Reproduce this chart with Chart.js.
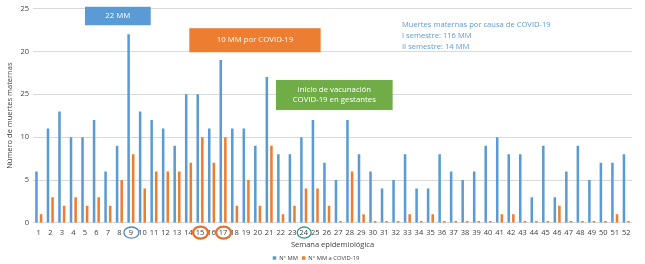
<!DOCTYPE html>
<html><head><meta charset="utf-8">
<script src="https://cdn.jsdelivr.net/npm/chart.js@4/dist/chart.umd.min.js"></script>
<style>html,body{margin:0;padding:0;background:#fff}#wrap{width:645px;height:264px}</style>
</head><body><div id="wrap"><canvas id="c" width="645" height="264"></canvas></div>
<script>
const weeks = ['1','2','3','4','5','6','7','8','9','10','11','12','13','14','15','16','17','18','19','20','21','22','23','24','25','26','27','28','29','30','31','32','33','34','35','36','37','38','39','40','41','42','43','44','45','46','47','48','49','50','51','52'];
const mmTotal = [6,11,13,10,10,12,6,9,22,13,12,11,9,15,15,11,19,11,11,9,17,8,8,10,12,7,5,12,8,6,4,5,8,4,4,8,6,5,6,9,10,8,8,3,9,3,6,9,5,7,7,8];
const mmCovid = [1,3,2,3,2,3,2,5,8,4,6,6,6,7,10,7,10,2,5,2,9,1,2,4,4,2,0,6,1,0,0,0,1,0,1,0,0,0,0,0,1,1,0,0,0,2,0,0,0,0,1,0];
const yTickLabels = ['0','5','10','25','20','25'];
const seriesNames = ['N° MM','N° MM a COVID-19'];
const xTitle = 'Semana epidemiológica';
const yTitle = 'Número de muertes maternas';
const highlightWeeks = ['9','15','17','24'];
const calloutTexts = [['22 MM'],['10 MM por COVID-19'],['Inicio de vacunación','COVID-19 en gestantes']];
const noteLines = ['Muertes maternas por causa de COVID-19','I semestre: 116 MM','II semestre: 14 MM'];

const BLUE = '#5b9bd5', ORANGE = '#ed7d31', GREEN = '#70ad47';
const FONT = "'Open Sans', sans-serif";
Chart.defaults.font.family = FONT;

// callout boxes in data units (category index, value)
const calloutBoxes = [
  {x0: 4.01, x1: 9.72, y0: 25.2, y1: 23.05, color: BLUE},
  {x0: 13.07, x1: 24.47, y0: 22.7, y1: 19.9, color: ORANGE},
  {x0: 20.59, x1: 30.72, y0: 16.67, y1: 13.17, color: GREEN}
];
const circleStyles = [
  {color: '#4f89c6', rx: 7.5, ry: 5.6, lw: 1.3},
  {color: '#e8702a', rx: 7.5, ry: 6, lw: 2.4},
  {color: '#e8702a', rx: 7.5, ry: 6, lw: 2.4},
  {color: '#23a084', rx: 7, ry: 5.6, lw: 1.3}
];

const annot = {
  id: 'annot',
  afterDraw(chart) {
    const {ctx, scales: {x, y}} = chart;
    ctx.save();
    calloutBoxes.forEach((b, i) => {
      const x0 = x.getPixelForValue(b.x0), x1 = x.getPixelForValue(b.x1);
      const y0 = y.getPixelForValue(b.y0), y1 = y.getPixelForValue(b.y1);
      ctx.fillStyle = b.color;
      ctx.fillRect(x0, y0, x1 - x0, y1 - y0);
      ctx.fillStyle = '#ffffff';
      ctx.font = '7.8px ' + FONT;
      ctx.textAlign = 'center';
      ctx.textBaseline = 'middle';
      const lines = calloutTexts[i];
      const lh = 10;
      const cy = (y0 + y1) / 2 - (lines.length - 1) * lh / 2;
      lines.forEach((t, k) => ctx.fillText(t, (x0 + x1) / 2, cy + k * lh));
    });
    // note
    ctx.fillStyle = '#5e9bd6';
    ctx.font = '7.6px ' + FONT;
    ctx.textAlign = 'left';
    ctx.textBaseline = 'middle';
    const nx = x.getPixelForValue(31.53);
    noteLines.forEach((t, k) => ctx.fillText(t, nx, y.getPixelForValue(23.08 - k * 1.26)));
    // circles around week labels
    const cyc = x.top + 9.7;
    highlightWeeks.forEach((w, i) => {
      const s = circleStyles[i];
      const cx = x.getPixelForValue(weeks.indexOf(w));
      ctx.beginPath();
      ctx.ellipse(cx + 0.5, cyc, s.rx, s.ry, 0, 0, Math.PI * 2);
      ctx.strokeStyle = s.color;
      ctx.lineWidth = s.lw;
      ctx.stroke();
    });
    ctx.restore();
  }
};

new Chart(document.getElementById('c'), {
  type: 'bar',
  data: {
    labels: weeks,
    datasets: [
      {label: seriesNames[0], data: mmTotal, backgroundColor: BLUE, categoryPercentage: 0.8, barPercentage: 0.55},
      {label: seriesNames[1], data: mmCovid, backgroundColor: ORANGE, categoryPercentage: 0.8, barPercentage: 0.55, minBarLength: 2}
    ]
  },
  options: {
    responsive: false,
    devicePixelRatio: 1,
    animation: false,
    layout: {padding: {top: 8.5, right: 13, bottom: -7, left: 0}},
    plugins: {
      tooltip: {enabled: false},
      legend: {
        position: 'bottom',
        labels: {boxWidth: 3.5, boxHeight: 3.5, padding: 4, color: '#404040', font: {size: 5.8}}
      }
    },
    scales: {
      x: {
        grid: {display: false, drawTicks: false},
        border: {display: false},
        ticks: {color: '#404040', font: {size: 7.5}, padding: 5, maxRotation: 0, autoSkip: false},
        title: {display: true, text: xTitle, color: '#404040', font: {size: 7.5}, padding: {top: 0, bottom: 1.8}},
        afterFit: s => { s.height = 28.3; }
      },
      y: {
        min: 0, max: 25,
        grid: {color: '#d9d9d9', drawTicks: false},
        border: {display: false},
        ticks: {stepSize: 5, color: '#404040', font: {size: 7.5}, padding: 4,
          callback: v => yTickLabels[v / 5]},
        title: {display: true, text: yTitle, color: '#404040', font: {size: 7.5}, padding: {top: 5, bottom: 0}},
        afterFit: s => { s.width = 33; }
      }
    }
  },
  plugins: [annot]
});
</script>
</body></html>
